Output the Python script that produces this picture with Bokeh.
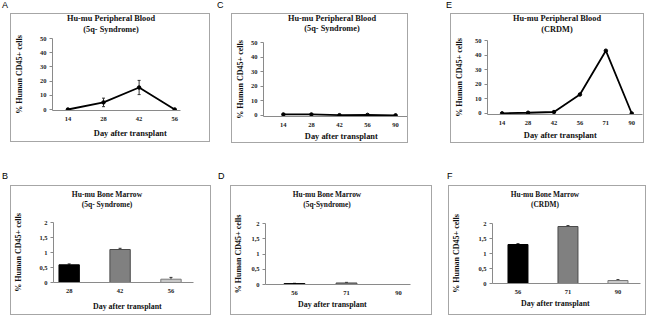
from bokeh.plotting import figure
from bokeh.layouts import column, row
from bokeh.models import (ColumnDataSource, Whisker, TeeHead, FixedTicker, Range1d, Title, Div)
from bokeh.embed import file_html
from bokeh.resources import INLINE

# ---------------- data ----------------
pbA_days = ["14", "28", "42", "56"]
pbA_vals = [0, 5, 15.5, 0]
pbA_err = [0, 3, 5, 0]

pbC_days = ["14", "28", "42", "56", "90"]
pbC_vals = [0.7, 0.7, 0.2, 0.4, 0.1]

pbE_days = ["14", "28", "42", "56", "71", "90"]
pbE_vals = [0.1, 0.5, 1, 13, 43, 0]

bmB_days = ["28", "42", "56"]
bmB_vals = [0.59, 1.1, 0.11]
bmB_err = [0.03, 0.04, 0.06]

bmD_days = ["56", "71", "90"]
bmD_vals = [0.03, 0.05, 0]
bmD_err = [0.01, 0.02, 0]

bmF_days = ["56", "71", "90"]
bmF_vals = [1.3, 1.9, 0.1]
bmF_err = [0.03, 0.03, 0.03]

pb_ticks = [0, 10, 20, 30, 40, 50]
bm_ticks = [0, 0.5, 1, 1.5, 2]
bm_tick_labels = ["0", "0,5", "1", "1,5", "2"]

bar_fill = ["#000000", "#808080", "#c8c8c8"]
bar_line = ["#000000", "#4a4a4a", "#7a7a7a"]

title_pb = "Hu-mu Peripheral Blood"
title_bm = "Hu-mu Bone Marrow"
ylab = "% Human CD45+ cells"
xlab = "Day after transplant"

# ---------------- styling / layout (reference pixel coords) ----------------
SERIF = "Liberation Serif"
BOX_COLOR = "#a6a6a6"
AXIS_COLOR = "#8a8a8a"
TXT = "#111111"
EM = 1.107  # font height / font size for Liberation Serif

# Times-Bold advance widths (per 1000 em)
TB = {' ': 250, '%': 1000, '(': 333, ')': 333, '+': 570, '-': 333, '4': 500, '5': 500,
      'B': 667, 'C': 722, 'D': 722, 'H': 778, 'M': 944, 'P': 611, 'R': 722, 'S': 556,
      'a': 500, 'c': 444, 'd': 556, 'e': 444, 'f': 333, 'h': 556, 'i': 278, 'l': 278,
      'm': 833, 'n': 556, 'o': 500, 'p': 556, 'q': 556, 'r': 444, 's': 389, 't': 333,
      'u': 556, 'w': 722, 'y': 500}


def twidth(text, size):
    return sum(TB.get(ch, 500) for ch in text) / 1000.0 * size


panels = [
    dict(letter="A", letter_x=2, box=(10, 13, 210, 142), frame=(47, 38, 180, 110),
         x0=63, sp=37, kind="line", days=pbA_days, vals=pbA_vals, err=pbA_err,
         titles=[(title_pb, 111, 18), ("(5q- Syndrome)", 111, 29)], tsize=8.3, xsize=8.4,
         xlab_xy=(125, 133), ylab_x=17),
    dict(letter="C", letter_x=217, box=(231, 13, 408, 143), frame=(262, 42, 407, 116.5),
         x0=282, sp=28.25, kind="line", days=pbC_days, vals=pbC_vals, err=None,
         titles=[(title_pb, 332, 18), ("(5q- Syndrome)", 332, 28)], tsize=8.3, xsize=8.4,
         xlab_xy=(340, 137), ylab_x=242),
    dict(letter="E", letter_x=446, box=(450, 13, 644, 143), frame=(483, 40, 642, 114),
         x0=498, sp=26.6, kind="line", days=pbE_days, vals=pbE_vals, err=None,
         titles=[(title_pb, 557, 18), ("(CRDM)", 557, 29)], tsize=8.3, xsize=8.4,
         xlab_xy=(556, 137), ylab_x=458),
    dict(letter="B", letter_x=2, box=(10, 185, 211, 315), frame=(50, 222, 193, 282),
         x0=66, sp=52, kind="bar", days=bmB_days, vals=bmB_vals, err=bmB_err,
         titles=[(title_bm, 107, 194), ("(5q- Syndrome)", 107, 203.5)], tsize=7.6, xsize=7.9,
         xlab_xy=(124, 306), ylab_x=17),
    dict(letter="D", letter_x=218, box=(230, 185, 432, 315), frame=(265, 223, 410, 284),
         x0=294, sp=52, kind="bar", days=bmD_days, vals=bmD_vals, err=bmD_err,
         titles=[(title_bm, 327, 194), ("(5q-Syndrome)", 327, 203.5)], tsize=7.4, xsize=7.9,
         xlab_xy=(332, 304), ylab_x=240),
    dict(letter="F", letter_x=447, box=(448, 185, 646, 315), frame=(489, 223, 640, 283),
         x0=515, sp=51, kind="bar", days=bmF_days, vals=bmF_vals, err=bmF_err,
         titles=[(title_bm, 545, 193.5), ("(CRDM)", 545, 203.5)], tsize=7.4, xsize=7.9,
         xlab_xy=(552, 303), ylab_x=454),
]

TICK_SIZE = 6.5
Y_TICK_OUT = 3
Y_TICK_STANDOFF = 3
X_TICK_STANDOFF = 6
YLAB_SIZE = 8.0
MIN_TOP_PAD = 4   # space kept above the frame inside the figure (top tick label)
LINE_H = 6        # css line box height for the title lines


def title_div(s, W, Dh):
    bx0, by0, bx1, by1 = s["box"]
    parts = []
    nominal = 0
    for txt, tx, ty in s["titles"]:
        c_local_y = ty - by0 - 1
        c_local_x = tx - bx0 - 1
        dy = c_local_y - (nominal + LINE_H / 2)
        dx = c_local_x - W / 2
        parts.append(
            f'<div style="height:{LINE_H}px;line-height:{LINE_H}px;position:relative;'
            f'top:{dy:.1f}px;left:{dx:.1f}px;width:{W}px;text-align:center;white-space:nowrap;">'
            f'{txt}</div>')
        nominal += LINE_H
    html = (f'<div style="font-family:\'{SERIF}\',serif;font-weight:bold;'
            f'font-size:{s["tsize"]}px;color:{TXT};width:{W}px;">' + "".join(parts) + '</div>')
    return Div(text=html, width=W, height=Dh, margin=(0, 0, 0, 0),
               styles={"overflow": "visible"})


def make_figure(s, Dh):
    bx0, by0, bx1, by1 = s["box"]
    W, H = bx1 - bx0 - 2, by1 - by0 - 2
    Hf = H - Dh
    fl, ft, fr, fb = s["frame"]
    L = round(fl - bx0 - 1)
    R = W - round(fr - bx0 - 1)
    T = round(ft - by0 - 1) - Dh
    B = H - round(fb - by0 - 1)

    n = len(s["days"])
    idx = list(range(n))
    xr0, xr1 = (fl - s["x0"]) / s["sp"], (fr - s["x0"]) / s["sp"]
    if s["kind"] == "line":
        yr0, yr1 = -0.7, 50
        ticks, labels = pb_ticks, [str(t) for t in pb_ticks]
    else:
        yr0, yr1 = 0, 2
        ticks, labels = bm_ticks, bm_tick_labels

    p = figure(width=W, height=Hf, x_range=Range1d(xr0, xr1), y_range=Range1d(yr0, yr1),
               toolbar_location=None, tools="", output_backend="svg",
               min_border_left=L, min_border_right=R, min_border_top=T, min_border_bottom=B)
    p.outline_line_color = None
    p.xgrid.visible = False
    p.ygrid.visible = False
    p.background_fill_color = None
    p.border_fill_color = None

    for ax in (p.xaxis[0], p.yaxis[0]):
        ax.axis_line_color = AXIS_COLOR
        ax.major_tick_line_color = AXIS_COLOR
        ax.minor_tick_line_color = None
        ax.major_tick_in = 0
        ax.major_label_text_font = SERIF
        ax.major_label_text_font_style = "bold"
        ax.major_label_text_font_size = f"{TICK_SIZE}px"
        ax.major_label_text_color = "#222222"
    ya = p.yaxis[0]
    ya.ticker = FixedTicker(ticks=ticks)
    ya.major_label_overrides = {t: l for t, l in zip(ticks, labels)}
    ya.major_tick_out = Y_TICK_OUT
    ya.major_label_standoff = Y_TICK_STANDOFF
    xa = p.xaxis[0]
    xa.ticker = FixedTicker(ticks=idx)
    xa.major_label_overrides = {i: d for i, d in zip(idx, s["days"])}
    xa.major_tick_out = 0
    xa.major_label_standoff = X_TICK_STANDOFF

    # y axis title as the axis label
    label_w = max(twidth(l, TICK_SIZE) for l in labels)
    axis_w = Y_TICK_OUT + Y_TICK_STANDOFF + label_w
    hy = EM * YLAB_SIZE
    ylab_local = s["ylab_x"] - bx0 - 1
    ystand = L - axis_w - (ylab_local + hy / 2)
    ystand = max(0, min(ystand, L - axis_w - hy - 1))
    ya.axis_label = ylab
    ya.axis_label_standoff = int(round(ystand))
    ya.axis_label_text_font = SERIF
    ya.axis_label_text_font_style = "bold"
    ya.axis_label_text_font_size = f"{YLAB_SIZE}px"
    ya.axis_label_text_color = TXT

    # data
    src = ColumnDataSource(dict(x=idx, y=s["vals"]))
    if s["kind"] == "line":
        p.line("x", "y", source=src, line_color="black", line_width=1.8)
        p.scatter("x", "y", source=src, size=3.5, color="black")
    else:
        bsrc = ColumnDataSource(dict(x=idx, y=s["vals"], fc=bar_fill[:n], lc=bar_line[:n]))
        p.vbar(x="x", top="y", source=bsrc, width=0.4, fill_color="fc", line_color="lc", line_width=1)
    if s["err"] is not None:
        e = ColumnDataSource(dict(x=idx, lo=[v - d for v, d in zip(s["vals"], s["err"])],
                                  hi=[v + d for v, d in zip(s["vals"], s["err"])]))
        p.add_layout(Whisker(source=e, base="x", lower="lo", upper="hi", line_color="#333333",
                             line_width=1,
                             upper_head=TeeHead(size=3, line_color="#333333"),
                             lower_head=TeeHead(size=3, line_color="#333333")))

    # x axis title below the tick labels
    xs = s["xsize"]
    hx = EM * xs
    axis_h = X_TICK_STANDOFF + EM * TICK_SIZE
    cx, cy = s["xlab_xy"]
    emb = cy + hx / 2 - fb
    sx = 2 * (emb - axis_h - 2 - hx)
    sx = max(0, min(sx, B - axis_h - 2 - hx - 0.5))
    p.add_layout(Title(text=xlab, align="left", offset=(cx - twidth(xlab, xs) / 2) - fl,
                       vertical_align="bottom", standoff=int(round(sx)),
                       text_font=SERIF, text_font_style="bold", text_font_size=f"{xs}px",
                       text_color=TXT), "below")
    return p


def make_cell(s, cell_left):
    bx0, by0, bx1, by1 = s["box"]
    W = bx1 - bx0 - 2
    fl, ft, fr, fb = s["frame"]
    T_total = round(ft - by0 - 1)
    # title block just tall enough for its two lines; the figure takes the rest
    last_c = s["titles"][-1][2] - by0 - 1
    Dh = int(round(last_c + EM * s["tsize"] / 2 + 1))
    Dh = min(Dh, T_total - MIN_TOP_PAD)
    tdiv = title_div(s, W, Dh)
    p = make_figure(s, Dh)
    letter_top = 1 if by0 < 100 else 0
    letter = Div(text=s["letter"], width=10, height=(by0 - letter_top) if by0 < 100 else 13,
                 margin=(letter_top, 0, 0, 0),
                 styles={"font-family": "'Liberation Sans', Arial, sans-serif", "font-size": "9px",
                         "line-height": "9px", "color": "#000000"})
    boxed = column(tdiv, p, margin=(0, 0, 0, bx0 - s["letter_x"]),
                   styles={"border": f"1px solid {BOX_COLOR}"})
    cell = column(letter, boxed, margin=(0, 0, 0, s["letter_x"] - cell_left))
    return cell, bx1


def make_row(specs, top_margin):
    cells = []
    x = 0
    for s in specs:
        c, x = make_cell(s, x)
        cells.append(c)
    return row(*cells, margin=(top_margin, 0, 0, 0))


row1 = make_row(panels[:3], 0)
row2 = make_row(panels[3:], 172 - 143)
layout = column(row1, row2)

open("out.html", "w").write(file_html(layout, INLINE))
